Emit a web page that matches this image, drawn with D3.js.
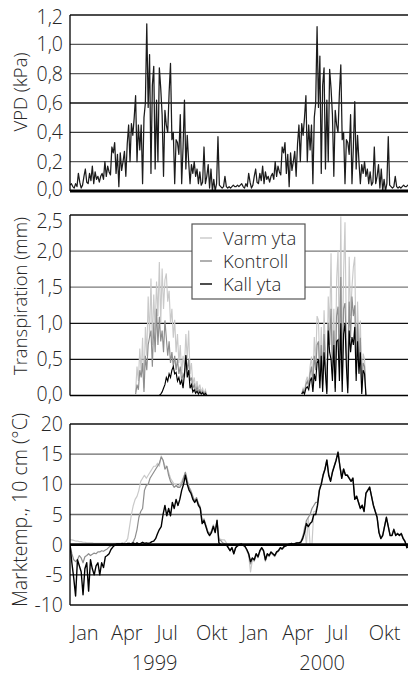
<!DOCTYPE html>
<html><head><meta charset="utf-8">
<script src="https://cdn.jsdelivr.net/npm/d3@7"></script>
<style>
body{margin:0;background:#fff;}
svg text{font-family:"Open Sans","Noto Sans",sans-serif;font-weight:300;fill:#262626;}
</style></head><body>
<svg id="c" width="408" height="675"></svg>
<script>
// ---------- DATA ----------
// VPD (kPa), one value every 3 days from 8 Dec 1998
const vpdStart = new Date(1998, 11, 8);
const vpdStep = 3;
const vpd = [
0.04,0.05,0.03,0.02,0.05,0.03,0.12,0.06,0.02,0.04,
0.10,0.15,0.06,0.05,0.12,0.07,0.17,0.05,0.13,0.08,
0.10,0.06,0.10,0.12,0.08,0.20,0.10,0.17,0.13,0.11,
0.30,0.26,0.33,0.12,0.25,0.03,0.26,0.14,0.20,0.27,
0.10,0.32,0.45,0.20,0.46,0.38,0.50,0.65,0.20,0.45,
0.28,0.45,0.05,0.50,0.60,1.14,0.57,0.93,0.12,0.72,
0.85,0.15,0.62,0.20,0.84,0.70,0.52,0.10,0.55,0.45,
0.40,0.67,0.87,0.35,0.40,0.05,0.35,0.33,0.25,0.52,
0.05,0.30,0.62,0.15,0.38,0.20,0.05,0.18,0.12,0.20,
0.10,0.15,0.05,0.13,0.04,0.06,0.30,0.05,0.10,0.18,
0.02,0.15,0.00,0.08,0.00,0.05,0.37,0.04,0.03,0.02,
0.03,0.10,0.03,0.02,0.03,0.02,0.03,0.04,0.03,0.03,
0.04,0.03,
0.04,0.05,0.03,0.02,0.05,0.03,0.12,0.06,0.02,0.04,
0.10,0.15,0.06,0.05,0.12,0.07,0.17,0.05,0.13,0.08,
0.10,0.06,0.10,0.12,0.08,0.20,0.10,0.17,0.13,0.11,
0.30,0.26,0.33,0.12,0.25,0.03,0.26,0.14,0.20,0.27,
0.10,0.32,0.45,0.20,0.46,0.38,0.50,0.65,0.20,0.45,
0.28,0.45,0.05,0.50,0.60,1.12,0.57,0.92,0.12,0.72,
0.84,0.15,0.62,0.20,0.83,0.70,0.52,0.10,0.55,0.45,
0.40,0.67,0.86,0.35,0.40,0.05,0.35,0.33,0.25,0.52,
0.05,0.30,0.61,0.15,0.38,0.20,0.05,0.18,0.12,0.20,
0.10,0.15,0.05,0.13,0.04,0.06,0.30,0.05,0.10,0.18,
0.02,0.15,0.00,0.08,0.00,0.05,0.37,0.04,0.03,0.02,
0.03,0.10,0.03,0.02,0.03,0.02,0.03,0.04,0.03,0.03,
0.04,0.03
];
const vpdTicks = [0, 0.2, 0.4, 0.6, 0.8, 1.0, 1.2];

// Transpiration (mm), one value every 3 days during each season
const transStart1999 = new Date(1999, 3, 28);
const transStart2000 = new Date(2000, 3, 19);
const transStep = 3;
const varm1999 = [0.05,0.40,0.20,0.65,0.30,0.80,0.10,0.95,0.55,1.37,
0.80,1.62,0.70,1.40,0.90,1.58,1.10,1.85,1.00,1.76,
1.20,1.60,1.69,1.30,1.45,1.00,1.20,0.80,1.05,0.60,
0.85,0.45,0.70,0.30,0.55,0.40,0.85,0.50,0.90,0.30,
0.45,0.15,0.25,0.10,0.20,0.08,0.15,0.05,0.10,0.03,0.08,0.00];
const kontroll1999 = [0.02,0.15,0.08,0.35,0.25,0.45,0.05,0.55,0.35,0.70,
0.81,0.90,0.40,1.00,0.60,1.20,0.70,1.09,0.75,0.90,
0.60,1.04,0.80,0.55,0.75,0.45,0.60,0.40,0.55,0.35,
0.50,0.30,0.40,0.20,0.30,0.25,0.55,0.35,0.50,0.20,
0.25,0.10,0.15,0.05,0.12,0.05,0.08,0.03,0.06,0.02,0.05,0.00];
const kall1999 = [0,0,0,0,0,0,0,0,0,0,
0,0,0,0,0,0,0,0,0.02,0.05,
0.10,0.15,0.25,0.20,0.30,0.25,0.35,0.40,0.30,0.32,
0.20,0.25,0.15,0.22,0.10,0.30,0.56,0.25,0.35,0.10,
0.15,0.05,0.08,0.03,0.06,0.02,0.05,0.02,0.04,0.01,0.03,0.00];
const varm2000 = [0.02,0.10,0.05,0.20,0.26,0.15,0.40,0.54,0.20,0.81,
0.45,1.10,1.04,0.30,0.95,0.20,1.18,0.60,0.10,1.37,
0.90,1.97,0.40,1.20,0.20,1.60,2.00,0.60,2.48,0.30,
1.70,2.40,0.80,0.15,1.92,1.10,1.50,1.78,1.92,0.40,
1.30,0.60,1.04,0.10,0.58,0.50,0.00];
const kontroll2000 = [0.02,0.08,0.04,0.15,0.20,0.12,0.30,0.40,0.15,0.55,
0.35,0.70,0.75,0.20,0.70,0.15,0.85,0.45,0.05,1.00,
0.70,1.20,0.30,0.90,0.10,1.10,1.23,0.40,1.64,0.20,
1.20,1.28,0.60,0.10,1.30,0.80,1.37,1.10,1.25,0.30,
1.00,0.45,0.80,0.05,0.45,0.40,0.00];
const kall2000 = [0.02,0.05,0.02,0.10,0.12,0.08,0.20,0.25,0.05,0.30,
0.20,0.45,0.50,0.10,0.55,0.05,0.60,0.30,0.02,0.90,
0.60,0.50,0.20,0.70,0.05,0.75,0.77,0.20,1.00,0.05,
0.85,1.00,0.40,0.03,0.90,0.60,0.81,0.70,0.95,0.20,
0.75,0.30,0.60,0.02,0.35,0.30,0.00];
const transTicks = [0, 0.5, 1.0, 1.5, 2.0, 2.5];

// Soil temperature at 10 cm (°C), one value every 4 days from 8 Dec 1998
const tempStart = new Date(1998, 11, 8);
const tempStep = 4;
const tempVarm = [0.8,0.8,0.7,0.6,0.6,0.5,0.5,0.4,0.4,0.3,
0.3,0.3,0.3,0.2,0.2,0.2,0.2,0.2,0.2,0.2,
0.2,0.2,0.2,0.2,0.2,0.2,0.2,0.2,0.2,0.3,
0.5,1.0,3.0,5.0,6.5,7.5,8.0,9.0,10.5,11.0,
11.5,11.0,11.5,12.0,12.5,13.0,13.0,13.5,13.0,14.7,
14.0,13.0,13.0,12.0,11.0,10.5,10.0,10.0,9.5,10.0,
10.5,11.2,12.0,10.8,9.5,9.0,8.0,7.2,7.8,6.8,
6.3,4.0,4.3,3.3,2.3,1.9,2.3,3.3,2.3,4.2,
1.0,0.9,0.8,0.8,0.3,-0.3,-1.0,-0.4,-1.3,-0.4,
-0.1,0.1,0.2,0.0,-0.3,-1.0,-1.8,-4.5,-2.5,-2.8,
-1.7,-2.2,-1.2,-0.6,-1.2,-2.8,-1.7,-2.0,-1.4,-1.7,
-2.0,-1.4,-1.1,-0.6,-0.8,-0.4,-0.2,0.0,0.1,0.2,
0.1,0.2,0.3,0.3,0.4,0.8,3.0,0.0,4.5,0.0,
0.0,5.5,5.5,6.8,9.1,10.1,11.6,12.5,14.0,11.6,
10.6,12.1,13.1,14.1,15.5,13.1,11.1,12.6,11.6,11.6,
11.1,10.6,11.1,7.6,8.1,7.1,6.1,6.6,5.6,8.6,
9.1,9.6,8.1,6.6,5.6,4.6,2.1,1.1,1.6,3.1,
4.6,3.1,1.6,1.6,2.6,1.6,1.9,1.6,1.9,1.1,
0.6,-0.4,-0.2];
const tempKontroll = [0.0,-1.5,-2.5,-2.8,-2.5,-1.8,-2.2,-3.0,-2.0,-1.8,
-1.5,-1.8,-1.6,-1.4,-1.5,-1.2,-1.2,-1.0,-1.1,-0.9,
-0.7,-0.4,-0.2,0.0,0.1,0.1,0.1,0.1,0.1,0.1,
0.1,0.1,0.1,0.2,0.5,1.2,2.5,4.5,5.5,6.0,
9.0,9.8,10.0,11.0,11.5,12.0,12.5,13.0,13.5,14.5,
14.0,12.5,13.0,11.5,10.5,10.0,9.5,9.8,9.5,9.5,
10.0,11.0,12.0,10.5,9.5,8.8,8.0,7.2,7.8,6.8,
6.2,3.8,4.2,3.2,2.2,1.8,2.2,3.2,2.2,4.0,
0.8,0.7,0.3,0.2,0.0,-0.5,-1.0,-0.5,-1.5,-0.5,
-0.2,0.0,0.1,-0.1,-0.3,-0.9,-1.6,-3.2,-2.3,-2.6,
-1.6,-2.1,-1.1,-0.6,-1.1,-2.6,-1.6,-1.9,-1.3,-1.6,
-1.9,-1.3,-1.1,-0.6,-0.8,-0.4,-0.2,0.0,0.1,0.2,
0.1,0.2,0.3,0.3,0.5,1.3,2.5,4.0,4.5,5.0,
6.0,6.5,7.0,7.0,9.2,10.2,11.7,12.6,14.1,11.7,
10.6,12.1,13.1,14.1,15.4,13.1,11.2,12.6,11.6,11.6,
11.1,10.6,11.1,7.6,8.1,7.1,6.1,6.6,5.6,8.6,
9.1,9.6,8.1,6.6,5.6,4.6,2.1,1.1,1.6,3.1,
4.6,3.1,1.6,1.6,2.6,1.6,1.9,1.6,1.9,1.1,
0.6,-0.4,-0.2];
const tempKall = [0.0,-3.0,-5.5,-8.5,-2.5,-3.5,-4.5,-8.3,-4.0,-3.0,
-7.7,-2.5,-4.0,-5.0,-3.5,-3.0,-5.0,-3.0,-3.8,-2.0,
-1.8,-1.5,-0.8,-0.4,-0.1,0.1,0.1,0.1,0.2,0.1,
0.1,0.2,0.2,0.1,0.3,0.1,0.3,0.1,0.2,0.4,
0.2,0.3,0.2,0.3,0.5,0.6,1.0,1.8,2.5,3.0,
5.0,6.5,4.8,6.0,4.8,7.0,6.0,7.5,6.5,7.5,
9.0,10.0,11.5,10.0,9.0,8.5,7.5,7.0,7.5,6.5,
6.0,3.5,4.0,3.0,2.0,1.5,2.0,3.0,2.0,4.0,
0.3,0.0,0.0,0.0,0.0,-0.5,-1.0,-0.5,-1.5,-0.5,
-0.2,0.0,0.1,-0.1,-0.3,-0.8,-1.5,-2.8,-2.2,-2.5,
-1.5,-2.0,-1.0,-0.5,-1.0,-2.5,-1.5,-1.8,-1.2,-1.5,
-1.8,-1.2,-1.0,-0.5,-0.7,-0.3,-0.2,0.0,0.1,0.2,
0.1,0.2,0.3,0.3,0.4,1.0,2.0,3.5,3.0,3.5,
3.8,5.0,5.0,6.5,9.0,10.0,11.5,12.5,14.0,11.5,
10.5,12.0,13.0,14.0,15.3,13.0,11.0,12.5,11.5,11.5,
11.0,10.5,11.0,7.5,8.0,7.0,6.0,6.5,5.5,8.5,
9.0,9.5,8.0,6.5,5.5,4.5,2.0,1.0,1.5,3.0,
4.5,3.0,1.5,1.5,2.5,1.5,1.8,1.5,1.8,1.0,
0.5,-0.5,-0.3];
const tempTicks = [-10, -5, 0, 5, 10, 15, 20];

const seriesNames = ["Varm yta", "Kontroll", "Kall yta"];
const seriesColors = ["#c9c9c9", "#8e8e8e", "#000000"];
const monthLabels = ["Jan","Apr","Jul","Okt","Jan","Apr","Jul","Okt"];
const monthDates = [new Date(1999,0,9),new Date(1999,3,9),new Date(1999,6,5),new Date(1999,9,9),
                    new Date(2000,0,9),new Date(2000,3,11),new Date(2000,6,5),new Date(2000,9,14)];
const yearLabels = ["1999","2000"];
const yearDates = [new Date(1999,5,8), new Date(2000,5,2)];

// ---------- DRAW ----------
const svg = d3.select("#c");
const x = d3.scaleTime().domain([new Date(1998,11,8), new Date(2000,11,12)]).range([70, 412]);
const fmt = d3.formatLocale({decimal:",", thousands:" ", grouping:[3], currency:["",""]}).format(".1f");
const ser = (start, step, vals) => vals.map((v,i) => ({d: d3.timeDay.offset(start, i*step), v}));
const TICK_FS = 19.5, TITLE_FS = 18.5, AX_FS = 20;

function panel(id, y, ticks, labelFmt, gridColor, title, titleY, titleFs, topShift, botShift) {
  const [bot, top] = y.range();
  const g = svg.append("g");
  svg.append("clipPath").attr("id", id).append("rect")
     .attr("x", 70).attr("y", top - 2).attr("width", 345).attr("height", bot - top + 4);
  ticks.forEach(t => {
    if (t === y.domain()[0] || t === y.domain()[1] || t === 0) return;
    g.append("line").attr("x1", 70).attr("x2", 412).attr("y1", y(t)).attr("y2", y(t))
     .attr("stroke", gridColor(t)).attr("stroke-width", 1.3);
  });
  g.append("line").attr("x1", 70).attr("x2", 412).attr("y1", top).attr("y2", top)
   .attr("stroke", "#111").attr("stroke-width", 1.3);
  ticks.forEach(t => {
    const sh = t === y.domain()[1] ? topShift : (t === y.domain()[0] ? botShift : 0);
    g.append("text").attr("x", 63).attr("y", y(t) + 7 + sh).attr("text-anchor", "end")
     .attr("font-size", TICK_FS).text(labelFmt(t));
  });
  svg.append("text").attr("transform", `translate(27,${titleY}) rotate(-90)`)
     .attr("text-anchor", "middle").attr("font-size", titleFs).text(title);
  const plot = svg.append("g").attr("clip-path", `url(#${id})`);
  return {g, plot, top, bot};
}

// Panel 1: VPD
const y1 = d3.scaleLinear().domain([0, 1.2]).range([191, 15]);
const p1 = panel("c1", y1, vpdTicks, fmt, t => (t === 0.6 ? "#111" : t === 0.4 ? "#3a3a3a" : "#5a5a5a"), "VPD (kPa)", 92, TITLE_FS, 2, -2);
const line1 = d3.line().x(d => x(d.d)).y(d => y1(d.v));
p1.plot.append("path").datum(ser(vpdStart, vpdStep, vpd)).attr("d", line1)
  .attr("fill", "none").attr("stroke", "#1c1c1c").attr("stroke-width", 1.25).attr("stroke-linejoin", "round");
svg.append("line").attr("x1", 70).attr("x2", 412).attr("y1", y1(0)).attr("y2", y1(0)).attr("stroke", "#000").attr("stroke-width", 3);
svg.append("line").attr("x1", 70).attr("x2", 70).attr("y1", y1(1.2)).attr("y2", y1(0)).attr("stroke", "#000").attr("stroke-width", 1.3);

// Panel 2: Transpiration
const y2 = d3.scaleLinear().domain([0, 2.5]).range([395.5, 215]);
const p2 = panel("c2", y2, transTicks, fmt, t => (t >= 1.5 ? "#7a7a7a" : "#111"), "Transpiration (mm)", 296, TITLE_FS, 6, -2);
const line2 = d3.line().x(d => x(d.d)).y(d => y2(d.v));
const transSets = [[varm1999, varm2000], [kontroll1999, kontroll2000], [kall1999, kall2000]];
transSets.forEach((pair, k) => {
  p2.plot.append("path").datum(ser(transStart1999, transStep, pair[0])).attr("d", line2)
    .attr("fill", "none").attr("stroke", seriesColors[k]).attr("stroke-width", 1.15);
  p2.plot.append("path").datum(ser(transStart2000, transStep, pair[1])).attr("d", line2)
    .attr("fill", "none").attr("stroke", seriesColors[k]).attr("stroke-width", 1.15);
});
svg.append("line").attr("x1", 70).attr("x2", 412).attr("y1", y2(0)).attr("y2", y2(0)).attr("stroke", "#000").attr("stroke-width", 1.5);
svg.append("line").attr("x1", 70).attr("x2", 70).attr("y1", y2(2.5)).attr("y2", y2(0)).attr("stroke", "#000").attr("stroke-width", 1.3);
// legend
const lg = svg.append("g").attr("transform", "translate(192,224)");
lg.append("rect").attr("width", 113).attr("height", 75).attr("fill", "#fff").attr("stroke", "#555").attr("stroke-width", 1.2);
seriesNames.forEach((n, i) => {
  const yy = 14 + i * 23;
  lg.append("line").attr("x1", 8).attr("x2", 20).attr("y1", yy).attr("y2", yy).attr("stroke", seriesColors[i]).attr("stroke-width", 1.4);
  lg.append("text").attr("x", 31).attr("y", yy + 6.5).attr("font-size", 18.5).text(n);
});

// Panel 3: soil temperature
const y3 = d3.scaleLinear().domain([-10, 20]).range([605, 424]);
const p3 = panel("c3", y3, tempTicks, t => String(t), t => (t > 0 ? "#6a6a6a" : "#111"), "Marktemp., 10 cm (°C)", 510, 19.5, 0, 0);
const line3 = d3.line().x(d => x(d.d)).y(d => y3(d.v));
[tempVarm, tempKontroll, tempKall].forEach((vals, k) => {
  p3.plot.append("path").datum(ser(tempStart, tempStep, vals)).attr("d", line3)
    .attr("fill", "none").attr("stroke", seriesColors[k]).attr("stroke-width", k === 2 ? 1.4 : 1.2).attr("stroke-linejoin", "round");
});
svg.append("line").attr("x1", 70).attr("x2", 412).attr("y1", y3(0)).attr("y2", y3(0)).attr("stroke", "#000").attr("stroke-width", 2.6);
svg.append("line").attr("x1", 70).attr("x2", 412).attr("y1", y3(-10)).attr("y2", y3(-10)).attr("stroke", "#111").attr("stroke-width", 1.3);
svg.append("line").attr("x1", 70).attr("x2", 70).attr("y1", y3(20)).attr("y2", y3(-10)).attr("stroke", "#000").attr("stroke-width", 1.3);

// x labels
monthLabels.forEach((m, i) => {
  svg.append("text").attr("x", x(monthDates[i])).attr("y", 640).attr("text-anchor", "middle").attr("font-size", AX_FS).text(m);
});
yearLabels.forEach((yl, i) => {
  svg.append("text").attr("x", x(yearDates[i])).attr("y", 670).attr("text-anchor", "middle").attr("font-size", AX_FS).text(yl);
});
</script>
</body></html>
